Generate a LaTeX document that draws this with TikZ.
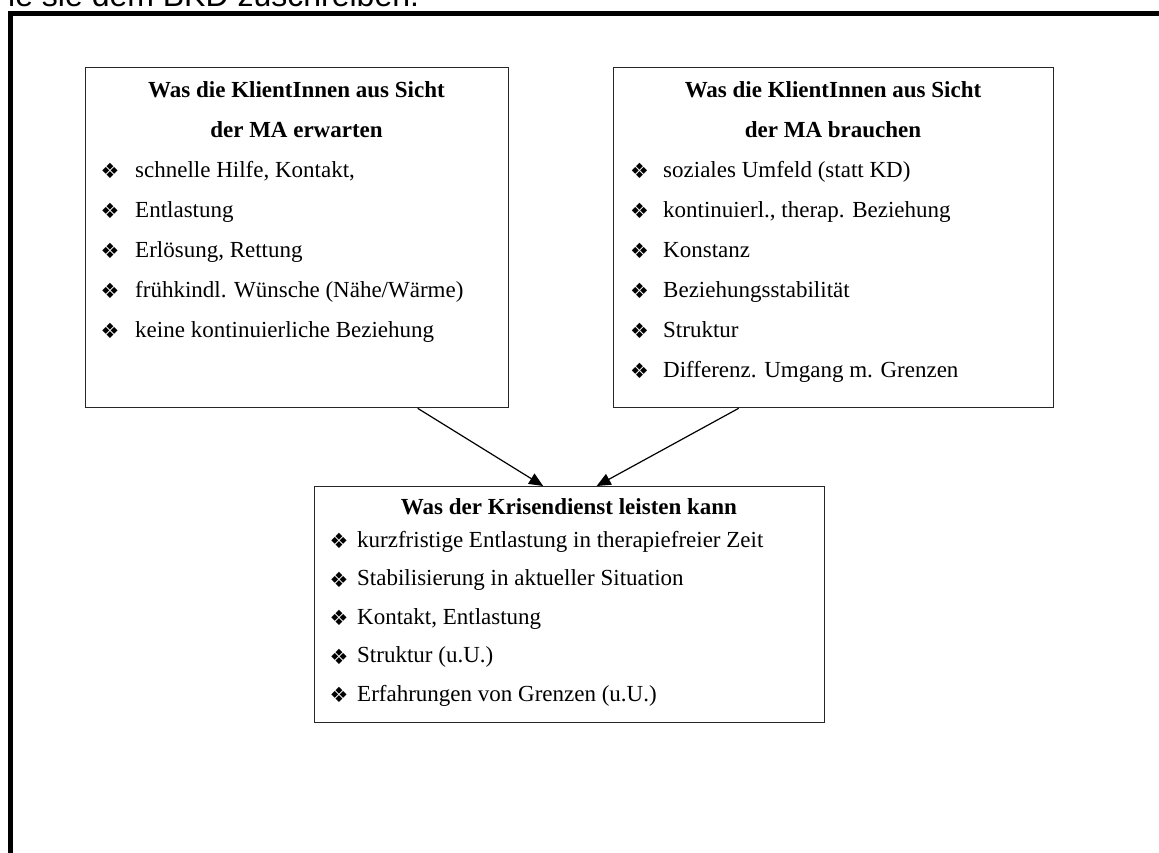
\documentclass[tikz,border=0pt]{standalone}
\usepackage{fontspec}
\setmainfont{Liberation Serif}
\newfontfamily\headfont{Liberation Sans}
\newfontfamily\symfont{DejaVu Sans}
\usetikzlibrary{arrows.meta}
\pgfdeclarelayer{background}
\pgfsetlayers{background,main}
\begin{document}
\begin{tikzpicture}[x=1pt,y=-1pt,
  frame/.style={line width=5pt, line join=miter},
  panel/.style={draw=black!85, line width=1.3pt, fill=white, inner sep=0pt, anchor=north west},
  heading/.style={font=\fontsize{23}{23}\selectfont\bfseries, inner sep=0pt, anchor=base},
  entry/.style={font=\fontsize{23}{23}\selectfont, inner sep=0pt, anchor=base west},
  bulletmark/.style={font=\symfont\fontsize{21}{21}\selectfont, inner sep=0pt, anchor=center},
  link/.style={line width=1.2pt, -{Triangle[length=14pt,width=12pt]}}
]
\useasboundingbox (0,0) rectangle (1159,852);
\clip (0,0) rectangle (1159,852);

% running text above the frame
\node[font=\headfont\fontsize{32}{32}\selectfont, inner sep=0pt, anchor=base west] (caption) at (8,6) {ie sie dem BKD zuschreiben.};

% heavy frame (left and top edges)
\draw[frame] (10.5,870) -- (10.5,13.5) -- (1180,13.5);

% the three panels
\node[panel, minimum width=423pt, minimum height=340pt] (b1) at (85,67) {};
\node[panel, minimum width=440pt, minimum height=340pt] (b2) at (613,67) {};
\node[panel, minimum width=510pt, minimum height=236pt] (b3) at (314,486) {};

% left panel
\node[heading] (b1h1) at (296.5,97) {Was die KlientInnen aus Sicht};
\node[heading] (b1h2) at (296.5,137) {der MA erwarten};
\foreach \t [count=\k from 0] in {{schnelle Hilfe, Kontakt,},{Entlastung},{Erlösung, Rettung},{frühkindl. Wünsche (Nähe/Wärme)},{keine kontinuierliche Beziehung}}{
  \node[bulletmark] (b1m\k) at (110,171+40*\k) {❖};
  \node[entry] (b1e\k) at (135,177+40*\k) {\t};
}

% right panel
\node[heading] (b2h1) at (833,97) {Was die KlientInnen aus Sicht};
\node[heading] (b2h2) at (833,137) {der MA brauchen};
\foreach \t [count=\k from 0] in {{soziales Umfeld (statt KD)},{kontinuierl., therap. Beziehung},{Konstanz},{Beziehungsstabilität},{Struktur},{Differenz. Umgang m. Grenzen}}{
  \node[bulletmark] (b2m\k) at (639.5,171+40*\k) {❖};
  \node[entry] (b2e\k) at (663,177+40*\k) {\t};
}

% bottom panel
\node[heading] (b3h1) at (569,514) {Was der Krisendienst leisten kann};
\foreach \t [count=\k from 0] in {{kurzfristige Entlastung in therapiefreier Zeit},{Stabilisierung in aktueller Situation},{Kontakt, Entlastung},{Struktur (u.U.)},{Erfahrungen von Grenzen (u.U.)}}{
  \node[bulletmark] (b3m\k) at (339,541+38.5*\k) {❖};
  \node[entry] (b3e\k) at (357,547+38.5*\k) {\t};
}

% connectors
\begin{pgfonlayer}{background}
\draw[link] ([xshift=120.5pt]b1.south) -- ([xshift=-26.5pt]b3.north);
\draw[link] ([xshift=-95pt]b2.south) -- ([xshift=27pt]b3.north);
\end{pgfonlayer}
\end{tikzpicture}
\end{document}
